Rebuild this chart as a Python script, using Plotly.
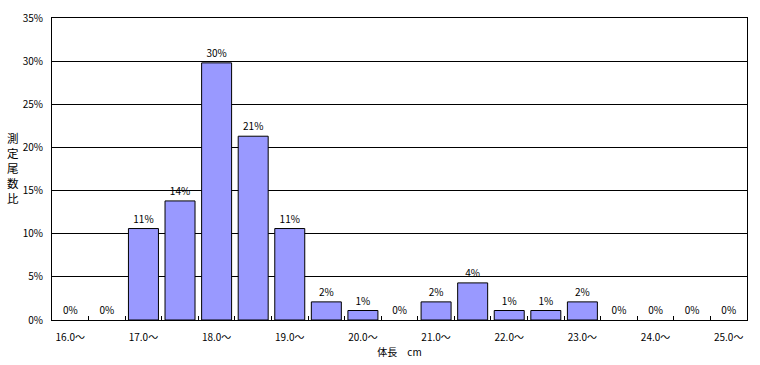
import plotly.graph_objects as go

categories = ["16.0～", "16.5～", "17.0～", "17.5～", "18.0～", "18.5～", "19.0～", "19.5～",
              "20.0～", "20.5～", "21.0～", "21.5～", "22.0～", "22.5～", "23.0～", "23.5～",
              "24.0～", "24.5～", "25.0～"]
values = [0, 0, 10.6, 13.8, 29.8, 21.3, 10.6, 2.1, 1.1, 0, 2.1, 4.3, 1.1, 1.1, 2.1, 0, 0, 0, 0]
tick_labels = [c if i % 2 == 0 else "" for i, c in enumerate(categories)]
y_ticks = [0, 5, 10, 15, 20, 25, 30, 35]
y_title = "測定尾数比"

FONT = "Noto Sans CJK JP, DejaVu Sans, sans-serif"

line_widths = [1 if v > 0 else 0 for v in values]

fig = go.Figure(go.Bar(
    x=categories, y=values,
    marker=dict(color="#9999FF", line=dict(color="black", width=line_widths)),
    texttemplate="%{y:.0f}%", textposition="outside",
    textfont=dict(size=10, color="black", family=FONT),
    cliponaxis=False,
))

fig.update_layout(
    width=760, height=365,
    margin=dict(l=52, r=13, t=18, b=45),
    plot_bgcolor="white", paper_bgcolor="white",
    bargap=0.18, showlegend=False,
    font=dict(family=FONT, size=10, color="black"),
    xaxis=dict(
        type="category", tickmode="array", tickvals=categories, ticktext=tick_labels,
        tickson="boundaries", ticks="inside", ticklen=4, tickcolor="black",
        tickangle=0, automargin=False, ticklabelstandoff=8,
        showline=True, linecolor="black", linewidth=1, mirror=True,
        showgrid=False, tickfont=dict(size=10),
        title=dict(text="体長　cm", font=dict(size=10), standoff=2),
    ),
    yaxis=dict(
        range=[0, 35], tickvals=y_ticks, ticktext=[f"{v}%" for v in y_ticks],
        showgrid=True, gridcolor="black", gridwidth=1,
        showline=True, linecolor="black", linewidth=1, mirror=True,
        ticks="", zeroline=False, tickfont=dict(size=10), automargin=False,
        ticklabelstandoff=6,
    ),
    annotations=[dict(
        text="<br>".join(y_title), xref="paper", yref="paper",
        x=-0.056, y=0.503, xanchor="center", yanchor="middle",
        showarrow=False, font=dict(size=11.5), align="center",
    )],
)

fig.write_html("out.html")
